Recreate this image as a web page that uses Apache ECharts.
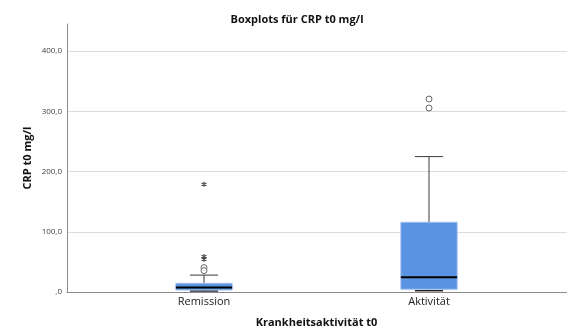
<!DOCTYPE html>
<html><head><meta charset="utf-8">
<script src="https://cdn.jsdelivr.net/npm/echarts@6/dist/echarts.min.js"></script>
<style>html,body{margin:0;padding:0;background:#fff}#c{width:567px;height:333px}</style>
</head><body><div id="c"></div>
<script>
var categories = ['Remission', 'Aktivität'];
// [lowerWhisker, Q1, median, Q3, upperWhisker]
var boxRemission = [0, 1.7, 6, 12.8, 26.5];
var boxAktivitaet = [0.5, 3, 23, 114.5, 224];
var outliersRemission = [39, 34];
var outliersAktivitaet = [320, 305];
var extremesRemission = [178, 57.6, 53];
var yTicks = [0, 100, 200, 300, 400];
var yMax = 445;

var boxes = [boxRemission, boxAktivitaet];
var boxData = boxes.map(function (b, i) { return [i].concat(b); });
var circleData = [];
outliersRemission.forEach(function (v) { circleData.push([0, v]); });
outliersAktivitaet.forEach(function (v) { circleData.push([1, v]); });
var starData = extremesRemission.map(function (v) { return [0, v]; });

var FONT = 'Open Sans';
var chart = echarts.init(document.getElementById('c'), null, {renderer: 'canvas'});
chart.setOption({
  animation: false,
  title: {
    text: 'Boxplots für CRP t0 mg/l', left: 292, top: 9, textAlign: 'center',
    textStyle: {fontFamily: FONT, fontSize: 11, fontWeight: 'bold', color: '#111'}
  },
  grid: [
    {left: 67, right: 0, top: 24, bottom: 41},
    {left: 91.5, right: 25.5, top: 24, bottom: 41}
  ],
  xAxis: [
    {gridIndex: 0, type: 'value', min: 0, max: 1, show: true,
     axisLine: {show: true, lineStyle: {color: '#8a8a8a', width: 1}},
     axisTick: {show: false}, axisLabel: {show: false}, splitLine: {show: false}},
    {gridIndex: 1, type: 'category', data: categories,
     axisLine: {show: false}, axisTick: {show: false},
     axisLabel: {fontFamily: FONT, fontSize: 11, color: '#222', margin: 5},
     name: 'Krankheitsaktivität t0', nameLocation: 'middle', nameGap: 26, nameMoveOverlap: false,
     nameTextStyle: {fontFamily: FONT, fontSize: 11, fontWeight: 'bold', color: '#111'}}
  ],
  yAxis: [
    {gridIndex: 0, type: 'value', min: 0, max: yMax, interval: 100,
     axisLine: {show: true, lineStyle: {color: '#8a8a8a', width: 1}},
     axisTick: {show: false},
     axisLabel: {showMaxLabel: false, fontFamily: FONT, fontSize: 8, color: '#444', margin: 5,
       formatter: function (v) { if (yTicks.indexOf(v) < 0) return ''; return v === 0 ? ',0' : v.toFixed(1).replace('.', ','); }},
     splitLine: {show: true, showMaxLine: false, lineStyle: {color: '#dcdcdc', width: 1}},
     name: 'CRP t0 mg/l', nameLocation: 'middle', nameGap: 34, nameRotate: 90, nameMoveOverlap: false,
     nameTextStyle: {fontFamily: FONT, fontSize: 11, fontWeight: 'bold', color: '#111'}},
    {gridIndex: 1, type: 'value', min: 0, max: yMax, show: false}
  ],
  series: [
    {
      type: 'custom', xAxisIndex: 1, yAxisIndex: 1, data: boxData,
      encode: {x: 0, y: [1, 2, 3, 4, 5]},
      renderItem: function (params, api) {
        var idx = api.value(0);
        var bw = api.size([1, 0])[0];
        var half = bw * 0.125;
        var capHalf = half / 2;
        var cx = api.coord([idx, 0])[0];
        function y(v) { return api.coord([idx, v])[1]; }
        var lw = y(api.value(1)), q1 = y(api.value(2)), med = y(api.value(3)),
            q3 = y(api.value(4)), uw = y(api.value(5));
        var ws = {stroke: '#3a3a3a', lineWidth: 1};
        return {type: 'group', children: [
          {type: 'line', shape: {x1: cx, y1: q3, x2: cx, y2: uw}, style: ws},
          {type: 'line', shape: {x1: cx, y1: q1, x2: cx, y2: lw}, style: ws},
          {type: 'line', shape: {x1: cx - capHalf, y1: uw, x2: cx + capHalf, y2: uw}, style: ws},
          {type: 'line', shape: {x1: cx - capHalf, y1: lw, x2: cx + capHalf, y2: lw}, style: {stroke: '#222', lineWidth: 1.5}},
          {type: 'rect', shape: {x: cx - half, y: q3, width: 2 * half, height: q1 - q3},
           style: {fill: '#5993e1', stroke: '#9dbdee', lineWidth: 1}},
          {type: 'line', shape: {x1: cx - half, y1: med, x2: cx + half, y2: med}, style: {stroke: '#000', lineWidth: 2}}
        ]};
      }
    },
    {
      type: 'scatter', xAxisIndex: 1, yAxisIndex: 1, data: circleData,
      symbol: 'circle', symbolSize: 6,
      itemStyle: {color: '#fff', borderColor: '#444', borderWidth: 1}
    },
    {
      type: 'scatter', xAxisIndex: 1, yAxisIndex: 1, data: starData,
      symbol: 'path://M5,0L5,10M0.7,2.5L9.3,7.5M0.7,7.5L9.3,2.5', symbolSize: 5,
      itemStyle: {color: 'rgba(0,0,0,0)', borderColor: '#222', borderWidth: 1.2}
    }
  ]
});
</script></body></html>
